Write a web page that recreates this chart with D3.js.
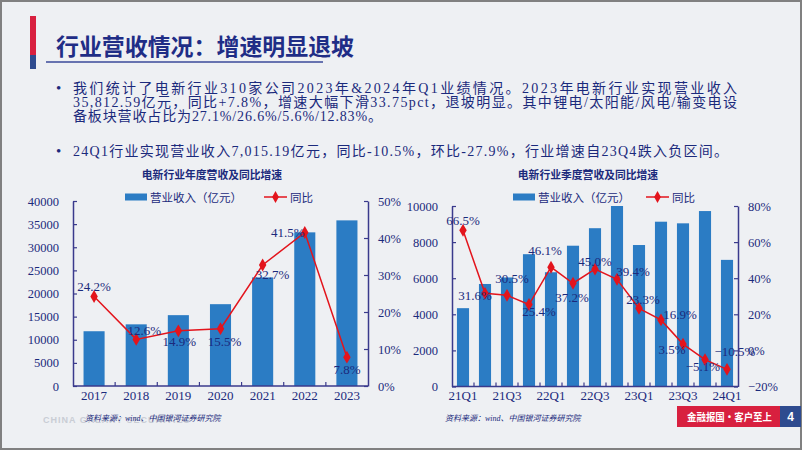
<!DOCTYPE html>
<html><head><meta charset="utf-8">
<script src="https://cdn.jsdelivr.net/npm/d3@7"></script>
<style>body{margin:0;background:#fff}svg{display:block}</style>
</head><body><svg id="c" width="802" height="451"></svg>
<script>
const pageTitle = "行业营收情况：增速明显退坡";
const bulletLines = [
  "我们统计了电新行业310家公司2023年&2024年Q1业绩情况。2023年电新行业实现营业收入",
  "35,812.59亿元，同比+7.8%，增速大幅下滑33.75pct，退坡明显。其中锂电/太阳能/风电/输变电设",
  "备板块营收占比为27.1%/26.6%/5.6%/12.83%。",
  "24Q1行业实现营业收入7,015.19亿元，同比-10.5%，环比-27.9%，行业增速自23Q4跌入负区间。"
];
const leftTitle = "电新行业年度营收及同比增速";
const rightTitle = "电新行业季度营收及同比增速";
const legendBar = "营业收入（亿元）";
const legendLine = "同比";
const sourceText = "资料来源：wind、中国银河证券研究院";
const watermark = "CHINA GALAXY SECURITIES";
const footerText = "金融报国·客户至上";
const pageNo = "4";

const annualYears = ["2017","2018","2019","2020","2021","2022","2023"];
const annualRevenue = [11840, 13332, 15318, 17692, 23478, 33221, 35812.59];
const annualYoY = [24.2, 12.6, 14.9, 15.5, 32.7, 41.5, 7.8];
const annualRevTicks = [0,5000,10000,15000,20000,25000,30000,35000,40000];
const annualYoYTicks = [0,10,20,30,40,50];

const quarters = ["21Q1","21Q2","21Q3","21Q4","22Q1","22Q2","22Q3","22Q4","23Q1","23Q2","23Q3","23Q4","24Q1"];
const quarterRevenue = [4340, 5680, 6040, 7330, 6330, 7800, 8770, 10230, 7838, 9130, 9040, 9720, 7015.19];
const quarterYoY = [66.5, 31.6, 30.5, 25.4, 46.1, 37.2, 45.0, 39.4, 23.3, 16.9, 3.5, -5.1, -10.5];
const quarterRevTicks = [0,2000,4000,6000,8000,10000];
const quarterYoYTicks = [-20,0,20,40,60,80];
const quarterTickLabels = ["21Q1","21Q3","22Q1","22Q3","23Q1","23Q3","24Q1"];

// label placement offsets (dx, dy from point)
const annualLabelOffsets = [[0,-10],[8,-9],[1,11],[4,13],[10,9],[-17,0],[0,12]];
const quarterLabelOffsets = [[0,-10],[-10,2],[5,-17],[10,7],[-6,-17],[-1,14],[0,-8],[16,-8],[4,-9],[19,-5],[-11,5],[-2,7],[8,-18]];

const NAVY = "#1b2a7c", AXIS = "#3a3a8c", BAR = "#2b7cc4", RED = "#e3141c";
const SERIF = "'Liberation Serif','Noto Sans CJK SC',serif";
const CJK = "'Noto Sans CJK SC','Liberation Serif',sans-serif";

const svg = d3.select("#c");
svg.append("rect").attr("x",1).attr("y",1).attr("width",800).attr("height",448)
  .attr("fill","#eef0f3").attr("stroke","#808080").attr("stroke-width",2);

// title decoration
svg.append("rect").attr("x",30).attr("y",16).attr("width",6).attr("height",40).attr("fill","#d8203f");
svg.append("rect").attr("x",30).attr("y",55).attr("width",6).attr("height",14).attr("fill","#2e4b8f");
svg.append("text").attr("x",56).attr("y",55).attr("font-family",CJK).attr("font-weight",700)
  .attr("font-size",23).attr("fill","#1f2d86").attr("textLength",298).attr("lengthAdjust","spacingAndGlyphs").text(pageTitle);
svg.append("line").attr("x1",46).attr("x2",323).attr("y1",62).attr("y2",62).attr("stroke","#3a4a9a").attr("stroke-width",1.3);

// bullets
const bulletY = [93, 107, 121, 155.5];
const bulletEnd = [737, 737, 382, 728];
bulletLines.forEach((t,i)=>{
  svg.append("text").attr("x",73).attr("y",bulletY[i]).attr("font-family",SERIF).attr("font-size",14)
    .attr("fill",NAVY).attr("textLength",bulletEnd[i]-73).attr("lengthAdjust","spacing").text(t);
});
[93,155.5].forEach(y=>svg.append("text").attr("x",56).attr("y",y).attr("font-family",SERIF)
  .attr("font-size",15).attr("fill",NAVY).text("•"));

function fmtPct(v){ return (v<0?"−":"")+Math.abs(v).toFixed(1)+"%"; }
function fmtTick(v){ return (v<0?"−":"")+Math.abs(v)+"%"; }

function drawChart(o){
  const g = svg.append("g");
  const x = d3.scaleBand().domain(o.cats).range([o.x0,o.x1]).paddingInner(o.pad).paddingOuter(o.pad/2);
  const y = d3.scaleLinear().domain([0,o.revMax]).range([o.yb,o.yt]).clamp(true);
  const y2 = d3.scaleLinear().domain([o.pMin,o.pMax]).range([o.yb,o.yt]);

  // title
  g.append("text").attr("x",o.tx).attr("y",179).attr("text-anchor","middle").attr("font-family",CJK)
    .attr("font-weight",700).attr("font-size",10.8).attr("fill",NAVY).text(o.title);
  // legend
  g.append("rect").attr("x",o.lx).attr("y",193.5).attr("width",22).attr("height",7).attr("fill",BAR);
  g.append("text").attr("x",o.lx+25).attr("y",197).attr("dominant-baseline","central").attr("font-family",CJK)
    .attr("font-size",11.5).attr("fill",NAVY).text(legendBar);
  g.append("line").attr("x1",o.lx2).attr("x2",o.lx2+23).attr("y1",197).attr("y2",197).attr("stroke",RED).attr("stroke-width",1.5);
  g.append("path").attr("d",d3.symbol(d3.symbolDiamond,40)()).attr("transform",`translate(${o.lx2+11.5},197)`).attr("fill",RED);
  g.append("text").attr("x",o.lx2+26).attr("y",197).attr("dominant-baseline","central").attr("font-family",CJK)
    .attr("font-size",11.5).attr("fill",NAVY).text(legendLine);

  // bars
  g.selectAll("rect.bar").data(o.rev).join("rect").attr("class","bar")
    .attr("x",(d,i)=>x(o.cats[i])).attr("width",x.bandwidth())
    .attr("y",d=>y(d)).attr("height",d=>o.yb-y(d)).attr("fill",BAR);

  // axes
  const axL = d3.axisLeft(y).tickValues(o.revTicks).tickSizeInner(-4).tickSizeOuter(0).tickPadding(o.lpad).tickFormat(d3.format("d"));
  const gl = g.append("g").attr("transform",`translate(${o.x0},0)`).call(axL);
  const axR = d3.axisRight(y2).tickValues(o.pTicks).tickSizeInner(-4).tickSizeOuter(0).tickPadding(10).tickFormat(fmtTick);
  const gr = g.append("g").attr("transform",`translate(${o.x1},0)`).call(axR);
  [gl,gr].forEach(a=>{
    a.select(".domain").attr("stroke",AXIS).attr("stroke-width",1.5);
    a.selectAll(".tick line").attr("stroke",AXIS).attr("stroke-width",1.2);
    a.selectAll(".tick text").attr("font-family",SERIF).attr("font-size",o.fs).attr("fill",NAVY);
  });
  // bottom axis
  g.append("line").attr("x1",o.x0).attr("x2",o.x1).attr("y1",o.yb).attr("y2",o.yb).attr("stroke",AXIS).attr("stroke-width",1.5);
  const bounds = o.cats.slice(1).map(c=>x(c)-x.step()*x.paddingInner()/2);
  g.selectAll("line.xt").data(bounds).join("line").attr("class","xt")
    .attr("x1",d=>d).attr("x2",d=>d).attr("y1",o.yb).attr("y2",o.yb-4).attr("stroke",AXIS).attr("stroke-width",1.2);
  g.selectAll("text.xl").data(o.xlabels).join("text").attr("class","xl")
    .attr("x",d=>x(d)+x.bandwidth()/2).attr("y",400).attr("text-anchor","middle")
    .attr("font-family",SERIF).attr("font-size",o.fs+0.5).attr("fill",NAVY).text(d=>d);

  // line
  const pts = o.yoy.map((v,i)=>[x(o.cats[i])+x.bandwidth()/2, y2(v)]);
  g.append("path").attr("d",d3.line()(pts)).attr("fill","none").attr("stroke",RED).attr("stroke-width",1.5);
  g.selectAll("path.mk").data(pts).join("path").attr("class","mk")
    .attr("d",d3.symbol(d3.symbolDiamond,48)()).attr("transform",d=>`translate(${d[0]},${d[1]})`).attr("fill",RED);
  g.selectAll("text.dl").data(o.yoy).join("text").attr("class","dl")
    .attr("x",(d,i)=>pts[i][0]+o.offs[i][0]).attr("y",(d,i)=>pts[i][1]+o.offs[i][1])
    .attr("text-anchor","middle").attr("dominant-baseline","central")
    .attr("font-family",SERIF).attr("font-size",o.fs+0.5).attr("fill",NAVY).text(d=>fmtPct(d));

  // source
  g.append("text").attr("x",o.sx).attr("y",421).attr("font-family",SERIF).attr("font-style","italic")
    .attr("font-size",8).attr("fill",NAVY).text(sourceText);
}

svg.append("text").attr("x",43).attr("y",423).attr("font-family","'Liberation Sans',sans-serif").attr("font-weight",700)
  .attr("font-size",9).attr("letter-spacing",1).attr("fill","#c9cdd5").text(watermark);

drawChart({cats:annualYears, rev:annualRevenue, yoy:annualYoY, revMax:40000, pMin:0, pMax:50,
  revTicks:annualRevTicks, pTicks:annualYoYTicks, xlabels:annualYears,
  x0:73, x1:368, yb:386, yt:201, pad:0.5, lpad:14, fs:12.5,
  tx:212, lx:125, lx2:264, sx:85, offs:annualLabelOffsets, title:leftTitle});

drawChart({cats:quarters, rev:quarterRevenue, yoy:quarterYoY, revMax:10000, pMin:-20, pMax:80,
  revTicks:quarterRevTicks, pTicks:quarterYoYTicks, xlabels:quarterTickLabels,
  x0:452, x1:738, yb:386.5, yt:206, pad:0.45, lpad:14, fs:12.5,
  tx:588, lx:513, lx2:646, sx:445, offs:quarterLabelOffsets, title:rightTitle});

// footer badge
svg.append("rect").attr("x",677).attr("y",406).attr("width",103).attr("height",21).attr("fill","#d8203f");
svg.append("rect").attr("x",780).attr("y",406).attr("width",21).attr("height",21).attr("fill","#2e4b8f");
svg.append("text").attr("x",687).attr("y",416.5).attr("dominant-baseline","central")
  .attr("font-family",CJK).attr("font-weight",700).attr("font-size",10.5).attr("fill","#fff")
  .attr("textLength",85).attr("lengthAdjust","spacingAndGlyphs").text(footerText);
svg.append("text").attr("x",790.5).attr("y",416.5).attr("text-anchor","middle").attr("dominant-baseline","central")
  .attr("font-family","'Liberation Sans',sans-serif").attr("font-weight",700).attr("font-size",12).attr("fill","#fff").text(pageNo);
</script></body></html>
